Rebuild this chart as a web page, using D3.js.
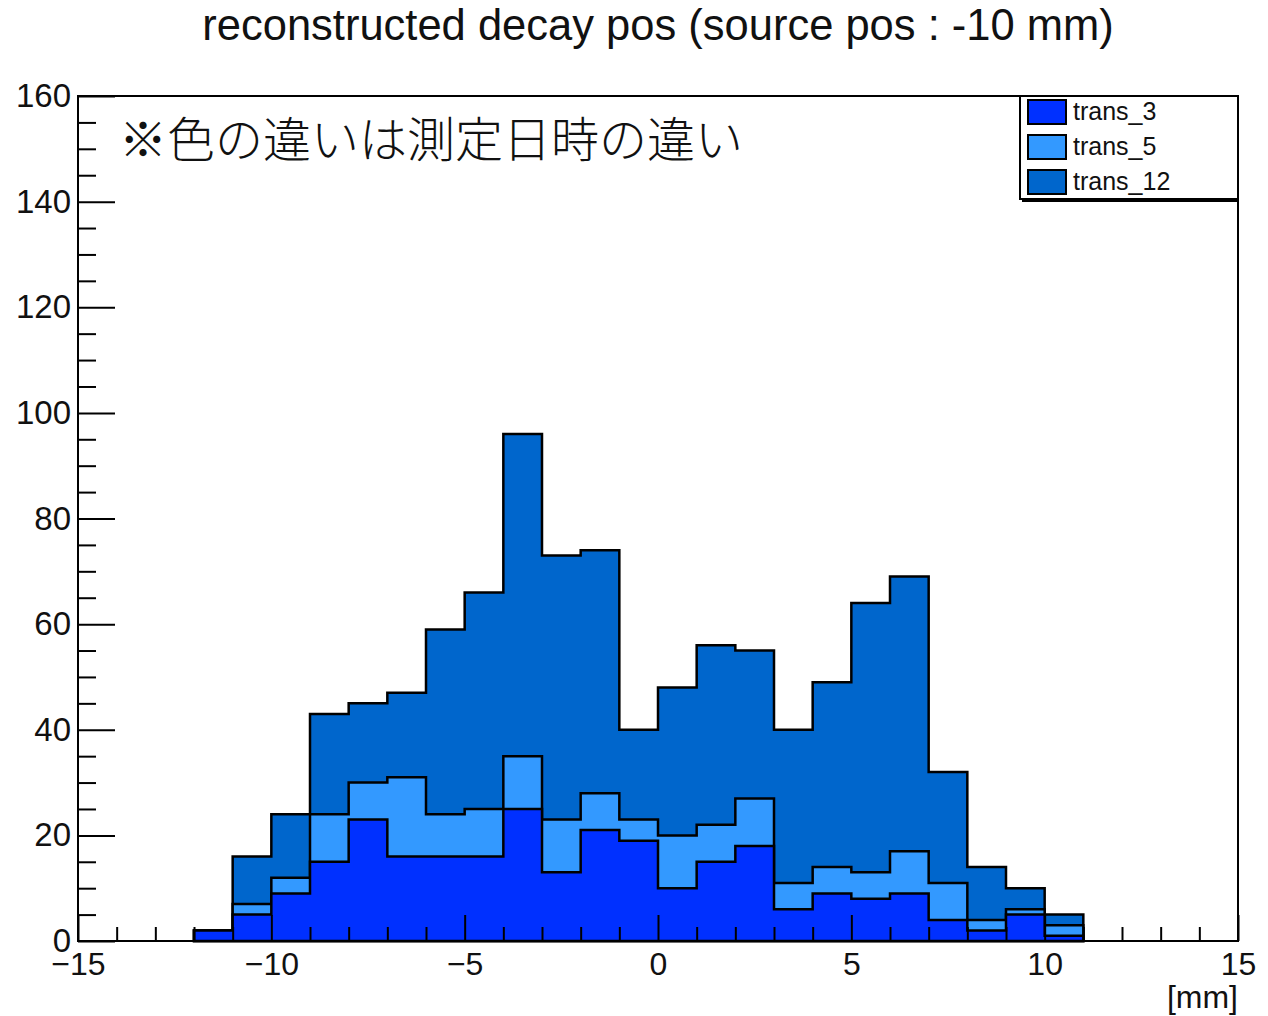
<!DOCTYPE html>
<html>
<head>
<meta charset="utf-8">
<script src="https://cdn.jsdelivr.net/npm/d3@7"></script>
<style>
  html, body { margin: 0; padding: 0; background: #fff; }
  svg { display: block; }
  text { font-family: "Liberation Sans", Arial, Helvetica, sans-serif; fill: #111; }
</style>
</head>
<body>
<script>
// Bin lower edges (1 mm wide bins)
const binEdges = [-12, -11, -10, -9, -8, -7, -6, -5, -4, -3, -2, -1, 0, 1, 2, 3, 4, 5, 6, 7, 8, 9, 10];
// Entries per bin for each measurement run (stacked bottom to top)
const trans3  = [2, 5, 9, 15, 23, 16, 16, 16, 25, 13, 21, 19, 10, 15, 18, 6, 9, 8, 9, 4, 2, 5, 1];
const trans5  = [0, 2, 3, 9, 7, 15, 8, 9, 10, 10, 7, 4, 10, 7, 9, 5, 5, 5, 8, 7, 2, 1, 2];
const trans12 = [0, 9, 12, 19, 15, 16, 35, 41, 61, 50, 46, 17, 28, 34, 28, 29, 35, 51, 52, 21, 10, 4, 2];
const seriesNames = ["trans_3", "trans_5", "trans_12"];
const seriesColors = ["#0030ff", "#3399ff", "#0066cc"];
const xMajorTicks = [-15, -10, -5, 0, 5, 10, 15];
const yMajorTicks = [0, 20, 40, 60, 80, 100, 120, 140, 160];

const W = 1268, H = 1016;
const frameL = 78, frameR = 1238, frameT = 96, frameB = 941;

const svg = d3.select("body").append("svg").attr("width", W).attr("height", H);

const x = d3.scaleLinear().domain([-15, 15]).range([frameL, frameR]);
const y = d3.scaleLinear().domain([0, 160]).range([frameB, frameT]);

// Cumulative stacks
const seriesList = [trans3, trans5, trans12];
const stacked = [];
let running = binEdges.map(() => 0);
seriesList.forEach(s => {
  running = running.map((v, i) => v + s[i]);
  stacked.push(running.slice());
});

// Step outline of a histogram from its bin contents
function stepPath(vals) {
  const pts = [[x(binEdges[0]), y(0)]];
  vals.forEach((v, i) => {
    pts.push([x(binEdges[i]), y(v)]);
    pts.push([x(binEdges[i] + 1), y(v)]);
  });
  pts.push([x(binEdges[binEdges.length - 1] + 1), y(0)]);
  return d3.line()(pts) + "Z";
}

// Draw the tallest stack first so lower layers sit on top
const plot = svg.append("g");
for (let k = stacked.length - 1; k >= 0; k--) {
  plot.append("path")
    .attr("d", stepPath(stacked[k]))
    .attr("fill", seriesColors[k])
    .attr("stroke", "#000")
    .attr("stroke-width", 2.5)
    .attr("stroke-linejoin", "miter");
}

// Axes with inward ticks
const yMinor = d3.range(0, 161, 5).filter(v => v % 20 !== 0);
svg.append("g").attr("transform", `translate(${frameL},0)`)
  .call(d3.axisLeft(y).tickValues(yMinor).tickSize(-18).tickFormat(""))
  .call(g => g.select(".domain").remove())
  .call(g => g.selectAll("line").attr("stroke", "#000").attr("stroke-width", 2));
svg.append("g").attr("transform", `translate(${frameL},0)`)
  .call(d3.axisLeft(y).tickValues(yMajorTicks).tickSize(-37).tickPadding(7).tickFormat(d3.format("d")))
  .call(g => g.select(".domain").remove())
  .call(g => g.selectAll("line").attr("stroke", "#000").attr("stroke-width", 2))
  .call(g => g.selectAll("text").attr("font-size", 33).attr("fill", "#111")
    .attr("font-family", "'Liberation Sans', Arial, sans-serif"));

const xMinor = d3.range(-15, 16, 1).filter(v => v % 5 !== 0);
svg.append("g").attr("transform", `translate(0,${frameB})`)
  .call(d3.axisBottom(x).tickValues(xMinor).tickSize(-14).tickFormat(""))
  .call(g => g.select(".domain").remove())
  .call(g => g.selectAll("line").attr("stroke", "#000").attr("stroke-width", 2));
svg.append("g").attr("transform", `translate(0,${frameB})`)
  .call(d3.axisBottom(x).tickValues(xMajorTicks).tickSize(-26).tickPadding(11))
  .call(g => g.select(".domain").remove())
  .call(g => g.selectAll("line").attr("stroke", "#000").attr("stroke-width", 2))
  .call(g => g.selectAll("text").attr("font-size", 32).attr("fill", "#111")
    .attr("font-family", "'Liberation Sans', Arial, sans-serif"));

// Frame
svg.append("rect")
  .attr("x", frameL).attr("y", frameT)
  .attr("width", frameR - frameL).attr("height", frameB - frameT)
  .attr("fill", "none").attr("stroke", "#000").attr("stroke-width", 2);

// Axis unit
svg.append("text")
  .attr("x", frameR).attr("y", 1008)
  .attr("text-anchor", "end").attr("font-size", 32)
  .text("[mm]");

// Title
svg.append("text")
  .attr("x", 658).attr("y", 40)
  .attr("text-anchor", "middle").attr("font-size", 43.5)
  .text("reconstructed decay pos (source pos : -10 mm)");

// Note
svg.append("text")
  .attr("x", 119).attr("y", 157)
  .attr("font-size", 48)
  .style("font-family", "'Noto Sans CJK JP', sans-serif")
  .style("font-weight", 300)
  .attr("fill", "#000")
  .text("※色の違いは測定日時の違い");

// Legend
const lg = svg.append("g");
lg.append("rect")
  .attr("x", 1020).attr("y", 96).attr("width", frameR - 1020).attr("height", 103)
  .attr("fill", "#fff").attr("stroke", "#000").attr("stroke-width", 2);
lg.append("line")
  .attr("x1", 1022).attr("x2", frameR).attr("y1", 201).attr("y2", 201)
  .attr("stroke", "#000").attr("stroke-width", 2);
const entryY = [100, 135, 170];
seriesNames.forEach((name, i) => {
  lg.append("rect")
    .attr("x", 1028).attr("y", entryY[i]).attr("width", 38).attr("height", 24)
    .attr("fill", seriesColors[i]).attr("stroke", "#000").attr("stroke-width", 2);
  lg.append("text")
    .attr("x", 1073).attr("y", entryY[i] + 20)
    .attr("font-size", 25)
    .text(name);
});
</script>
</body>
</html>
